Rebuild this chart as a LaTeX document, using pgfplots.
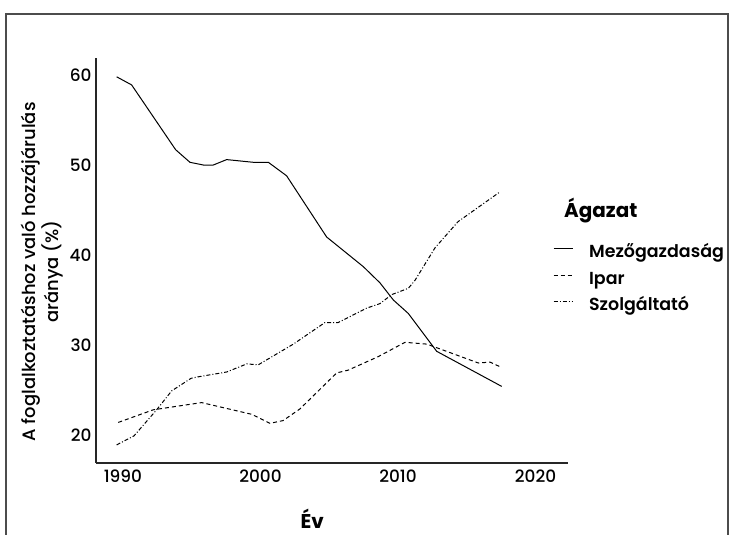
\documentclass[border=0pt]{standalone}
\usepackage{fontspec}
\setmainfont{Poppins}
\newfontfamily\semib{Poppins SemiBold}
\newfontfamily\medi{Poppins Medium}
\usepackage{pgfplots}
\pgfplotsset{compat=1.18}
\begin{document}
\begin{tikzpicture}[x=1bp,y=1bp]
\useasboundingbox (0,0) rectangle (731,535);
\draw[line width=1.2bp, color=black!70] (6,-20) rectangle (728,521);
\begin{axis}[
 at={(96bp,72bp)}, anchor=south west,
 scale only axis, width=472bp, height=405bp,
 xmin=1988.04, xmax=2022.36, ymin=16.89, ymax=61.89,
 axis x line=bottom, axis y line=left,
 axis line style={-, black!85, line width=1.1bp},
 xtick={1990,2000,2010,2020}, ytick={20,30,40,50,60},
 major tick length=0pt,
 /pgf/number format/assume math mode=true,
 /pgf/number format/set thousands separator={},
 tick label style={font=\medi\fontsize{17}{19}\selectfont},
 xticklabel style={yshift=-3bp},
 yticklabel style={xshift=-1bp},
 xlabel={Év},
 ylabel={A foglalkoztatáshoz való hozzájárulás\\aránya (\%)},
 every axis x label/.style={at={(axis description cs:0.458,-0.137)}, anchor=center, inner sep=0pt, font=\bfseries\fontsize{20}{24}\selectfont},
 every axis y label/.style={at={(axis description cs:-0.114,0.472)}, anchor=center, rotate=90, align=center, font=\medi\fontsize{18}{21}\selectfont},
 legend style={at={(axis description cs:0.968,0.538)}, anchor=north west, draw=none, fill=none, inner sep=0pt, row sep=10bp, column sep=16bp, font=\semib\fontsize{17.5}{19}\selectfont, nodes={inner sep=0pt, text height=12.5bp, text depth=4bp}},
 legend cell align=left,
 legend image code/.code={\draw[#1] (0bp,5bp) -- (19bp,5bp);},
]
\addplot[black, line width=1bp] coordinates {
(1989.54,59.8) (1990.63,58.9) (1993.83,51.7) (1994.87,50.3) (1995.84,50.0) (1996.57,50.0) (1997.54,50.6) (1999.48,50.3) (2000.57,50.3) (2001.90,48.8) (2004.81,42.0) (2007.48,38.7) (2008.69,36.9) (2009.66,35.0) (2010.75,33.5) (2012.81,29.3) (2017.54,25.4)};
\addlegendentry{Mezőgazdaság}
\addplot[black, line width=1bp, dash pattern=on 4bp off 3bp] coordinates {
(1989.66,21.4) (1992.20,22.8) (1995.72,23.6) (1999.36,22.3) (2000.69,21.3) (2001.64,21.6) (2002.87,22.9) (2005.54,26.9) (2006.36,27.2) (2008.55,28.7) (2010.51,30.3) (2012.09,30.1) (2012.81,29.7) (2015.84,28.0) (2016.69,28.1) (2017.54,27.5)};
\addlegendentry{Ipar}
\addplot[black, line width=1bp, dash pattern=on 4bp off 2bp on 1bp off 2bp] coordinates {
(1989.54,18.9) (1990.80,19.9) (1992.45,22.8) (1993.54,24.9) (1994.95,26.3) (1995.60,26.5) (1997.54,27.0) (1999.00,27.9) (1999.84,27.8) (2002.39,30.1) (2004.69,32.5) (2005.66,32.5) (2007.72,34.1) (2008.69,34.6) (2009.54,35.6) (2010.75,36.3) (2011.24,37.2) (2012.69,40.8) (2014.36,43.7) (2017.40,47.0)};
\addlegendentry{Szolgáltató}
\end{axis}
\node[anchor=base west, font=\bfseries\fontsize{20}{24}\selectfont, inner sep=0pt] at (564,317) {Ágazat};
\end{tikzpicture}
\end{document}
